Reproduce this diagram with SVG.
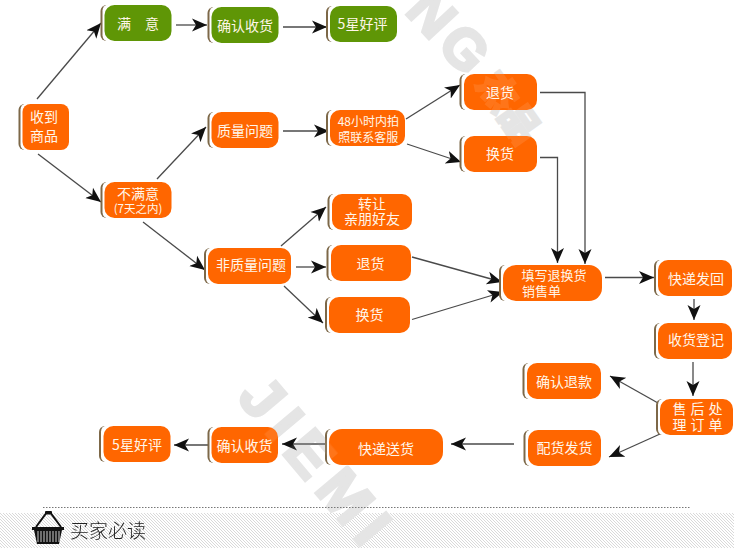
<svg xmlns="http://www.w3.org/2000/svg" xmlns:xlink="http://www.w3.org/1999/xlink" width="750" height="548" viewBox="0 0 750 548">
<style>
text{font-family:"Noto Sans CJK SC","Liberation Sans",sans-serif}
.t{fill:#fff6ea;font-size:14px;text-anchor:middle;dominant-baseline:central;transform:translateY(-1px)}
.s{font-size:12px}.x{font-size:11.500px}
.sh{fill:#7d6848}.gap{fill:#fff}.o{fill:#ff6600}.g{fill:#5f9606}
.c{fill:none;stroke:#4a4a4a;stroke-width:1.3;marker-end:url(#a)}
.wm{font-family:"Liberation Sans","Noto Sans CJK SC",sans-serif;font-weight:700;font-size:56px;letter-spacing:6px;stroke-width:3px}
</style>
<defs>
<marker id="a" markerUnits="userSpaceOnUse" markerWidth="17" markerHeight="15" refX="15" refY="7" orient="auto" viewBox="0 0 17 15"><path d="M0,0.5L15,7L0,13.5L4,7Z" fill="#111"/></marker>
<pattern id="h" width="3" height="3" patternUnits="userSpaceOnUse"><rect width="3" height="3" fill="#fff"/><path d="M-1,-1L4,4M-1,2L1,4M2,-1L4,1" stroke="#d9d9d9" stroke-width="1"/></pattern>
<g id="wm"><text class="wm" style="font-size:60px;letter-spacing:10px" transform="translate(236,398) rotate(50)">JIEMI</text><text class="wm" transform="translate(404,12) rotate(47)">NG</text><text class="wm" style="font-family:'Noto Sans CJK SC',sans-serif;font-size:38px;letter-spacing:0" transform="translate(476,84) rotate(55)">杰品</text></g>
</defs>
<rect width="750" height="548" fill="#fff"/>
<rect id="band" x="0" y="513" width="734" height="35" fill="url(#h)"/>
<use xlink:href="#wm" href="#wm" fill="#e3e3e3" stroke="#e3e3e3"/>
<g id="connectors">
<path class="c" d="M37,99L101,23"/>
<path class="c" d="M38,154L101,202"/>
<path class="c" d="M176,25H207"/>
<path class="c" d="M283,27H327"/>
<path class="c" d="M157,179L206,127"/>
<path class="c" d="M283,131H329"/>
<path class="c" d="M143,222L205,270"/>
<path class="c" d="M281,246L326,207"/>
<path class="c" d="M296,267H326"/>
<path class="c" d="M284,286L323,323"/>
<path class="c" d="M406,119L460,85"/>
<path class="c" d="M407,144L461,162"/>
<path class="c" d="M540,92.500H585V264"/>
<path class="c" d="M540,157.500H557.500V263"/>
<path class="c" d="M412,257L502,282"/>
<path class="c" d="M412,319.500L503,292"/>
<path class="c" d="M605,277.500H654"/>
<path class="c" d="M694,299V320"/>
<path class="c" d="M693,362V396"/>
<path class="c" d="M658,403L610,376"/>
<path class="c" d="M660,434L609,457"/>
<path class="c" d="M514,444H451"/>
<path class="c" d="M325,444H282"/>
<path class="c" d="M208,445H174"/>
</g>
<g id="n1"><rect class="sh" x="18.500" y="104" width="30" height="46" rx="6"/><rect class="gap" x="20.500" y="103.500" width="30" height="47" rx="6"/><rect class="o" x="22.500" y="104" width="46.500" height="46" rx="8"/><text class="t"><tspan x="44" y="116.500">收到</tspan><tspan x="44" y="136">商品</tspan></text></g>
<g id="n2"><rect class="sh" x="100.500" y="5" width="30" height="36" rx="6"/><rect class="gap" x="102.500" y="4.500" width="30" height="37" rx="6"/><rect class="g" x="104.500" y="5" width="67" height="36" rx="10"/><text class="t" x="138" y="24">满　意</text></g>
<g id="n3"><rect class="sh" x="207.500" y="7" width="30" height="36" rx="6"/><rect class="gap" x="209.500" y="6.500" width="30" height="37" rx="6"/><rect class="g" x="211.500" y="7" width="67" height="36" rx="10"/><text class="t" x="245" y="25.500">确认收货</text></g>
<g id="n4"><rect class="sh" x="326" y="6" width="30" height="36" rx="6"/><rect class="gap" x="328" y="5.500" width="30" height="37" rx="6"/><rect class="g" x="330" y="6" width="67" height="36" rx="10"/><text class="t" x="362.500" y="24">5星好评</text></g>
<g id="n5"><rect class="sh" x="207.500" y="112" width="30" height="36" rx="6"/><rect class="gap" x="209.500" y="111.500" width="30" height="37" rx="6"/><rect class="o" x="211.500" y="112" width="67" height="36" rx="10"/><text class="t" x="245" y="131">质量问题</text></g>
<g id="n6"><rect class="sh" x="326" y="110" width="30" height="36" rx="6"/><rect class="gap" x="328" y="109.500" width="30" height="37" rx="6"/><rect class="o" x="330" y="110" width="75" height="36" rx="10"/><text class="t s"><tspan x="368.300" y="120.500">48小时内拍</tspan><tspan x="368.300" y="136.500">照联系客服</tspan></text></g>
<g id="n7"><rect class="sh" x="100.500" y="182" width="30" height="36" rx="6"/><rect class="gap" x="102.500" y="181.500" width="30" height="37" rx="6"/><rect class="o" x="104.500" y="182" width="67" height="36" rx="10"/><text class="t" x="138" y="194">不满意</text><text class="t x" x="138" y="209">(7天之内)</text></g>
<g id="n8"><rect class="sh" x="459.500" y="74" width="30" height="36" rx="6"/><rect class="gap" x="461.500" y="73.500" width="30" height="37" rx="6"/><rect class="o" x="464" y="74" width="73" height="36" rx="10"/><text class="t" x="500" y="92.500">退货</text></g>
<g id="n9"><rect class="sh" x="459.500" y="136" width="30" height="36" rx="6"/><rect class="gap" x="461.500" y="135.500" width="30" height="37" rx="6"/><rect class="o" x="464" y="136" width="73" height="36" rx="10"/><text class="t" x="500" y="153.500">换货</text></g>
<g id="n10"><rect class="sh" x="327.500" y="194" width="30" height="36" rx="6"/><rect class="gap" x="329.500" y="193.500" width="30" height="37" rx="6"/><rect class="o" x="332" y="194" width="80" height="36" rx="10"/><text class="t"><tspan x="372" y="203.500">转让</tspan><tspan x="372" y="218.500">亲朋好友</tspan></text></g>
<g id="n11"><rect class="sh" x="204" y="248" width="30" height="36" rx="6"/><rect class="gap" x="206" y="247.500" width="30" height="37" rx="6"/><rect class="o" x="208" y="248" width="83" height="36" rx="10"/><text class="t" x="251" y="265">非质量问题</text></g>
<g id="n12"><rect class="sh" x="326.500" y="245" width="30" height="36" rx="6"/><rect class="gap" x="328.500" y="244.500" width="30" height="37" rx="6"/><rect class="o" x="331" y="245" width="80" height="36" rx="10"/><text class="t" x="370.500" y="263.500">退货</text></g>
<g id="n13"><rect class="sh" x="325" y="297" width="30" height="36" rx="6"/><rect class="gap" x="327" y="296.500" width="30" height="37" rx="6"/><rect class="o" x="329" y="297" width="81" height="36" rx="10"/><text class="t" x="369.500" y="315">换货</text></g>
<g id="n14"><rect class="sh" x="499" y="265" width="30" height="36" rx="6"/><rect class="gap" x="501" y="264.500" width="30" height="37" rx="6"/><rect class="o" x="503" y="265" width="99" height="36" rx="13"/><text class="t" style="font-size:13px" x="554" y="275.500">填写退换货</text><text class="t" style="text-anchor:start;font-size:13px" x="522" y="291.500">销售单</text></g>
<g id="n15"><rect class="sh" x="654" y="260" width="30" height="36" rx="6"/><rect class="gap" x="656" y="259.500" width="30" height="37" rx="6"/><rect class="o" x="658" y="260" width="74" height="36" rx="10"/><text class="t" x="696" y="278.500">快递发回</text></g>
<g id="n16"><rect class="sh" x="654" y="323" width="30" height="36" rx="6"/><rect class="gap" x="656" y="322.500" width="30" height="37" rx="6"/><rect class="o" x="658" y="323" width="74" height="36" rx="10"/><text class="t" x="696" y="340">收货登记</text></g>
<g id="n17"><rect class="sh" x="522.500" y="363" width="30" height="36" rx="6"/><rect class="gap" x="524.500" y="362.500" width="30" height="37" rx="6"/><rect class="o" x="527" y="363" width="74" height="36" rx="10"/><text class="t" x="564" y="381.500">确认退款</text></g>
<g id="n18"><rect class="sh" x="656" y="399" width="30" height="36" rx="6"/><rect class="gap" x="658" y="398.500" width="30" height="37" rx="6"/><rect class="o" x="660" y="399" width="73" height="36" rx="10"/><text class="t" style="text-anchor:start;letter-spacing:4px"><tspan x="672.500" y="409">售后处</tspan><tspan x="672.500" y="424.500">理订单</tspan></text></g>
<g id="n19"><rect class="sh" x="523.500" y="430" width="30" height="36" rx="6"/><rect class="gap" x="525.500" y="429.500" width="30" height="37" rx="6"/><rect class="o" x="528" y="430" width="73" height="36" rx="10"/><text class="t" x="564.500" y="447.500">配货发货</text></g>
<g id="n20"><rect class="sh" x="325" y="429" width="30" height="36" rx="6"/><rect class="gap" x="327" y="428.500" width="30" height="37" rx="6"/><rect class="o" x="329" y="429" width="114" height="36" rx="13"/><text class="t" x="386" y="448.500">快递送货</text></g>
<g id="n21"><rect class="sh" x="207.500" y="427" width="30" height="36" rx="6"/><rect class="gap" x="209.500" y="426.500" width="30" height="37" rx="6"/><rect class="o" x="211.500" y="427" width="66.500" height="36" rx="10"/><text class="t" x="244.500" y="445.500">确认收货</text></g>
<g id="n22"><rect class="sh" x="99" y="426" width="30" height="36" rx="6"/><rect class="gap" x="101" y="425.500" width="30" height="37" rx="6"/><rect class="o" x="103.500" y="426" width="67" height="36" rx="10"/><text class="t" x="137" y="444.500">5星好评</text></g>
<use xlink:href="#wm" href="#wm" fill="#fff" stroke="#fff" opacity="0.1"/>
<path id="rule" d="M43,507.500H690" fill="none" stroke="#777" stroke-width="1" stroke-dasharray="1.500 1.500"/>
<g id="title">
<path d="M36,527L46,513.500H51L61,527" fill="none" stroke="#111" stroke-width="2"/>
<rect x="45" y="511" width="7" height="3" rx="1" fill="#111"/>
<path d="M32,527H64V530H62L59,544H37L34,530H32Z" fill="#111"/>
<path d="M38,531V542M41,531V542M44,531V542M47,531V542M50,531V542M53,531V542M56,531V542M59,531V542" stroke="#ccc" stroke-width="1"/>
<text x="70" y="529" style="font-size:19px;font-weight:300;fill:#222;dominant-baseline:central">买家必读</text>
</g>
</svg>
